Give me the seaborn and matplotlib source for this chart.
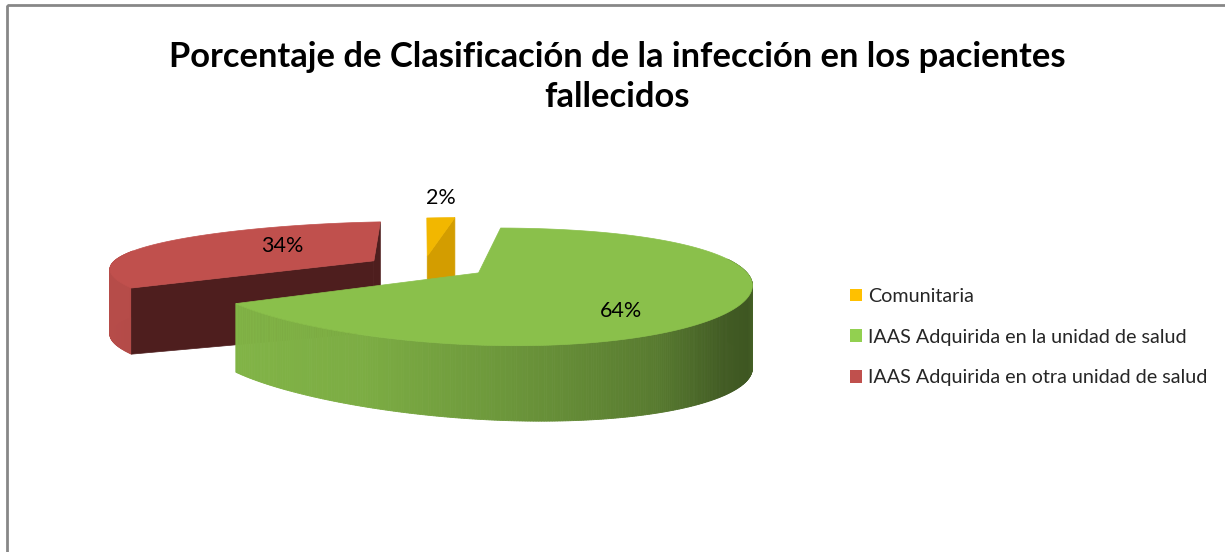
import numpy as np
import matplotlib
matplotlib.use("Agg")
import matplotlib.pyplot as plt
from matplotlib.patches import Polygon, Patch, Rectangle
from matplotlib.colors import to_rgb
import seaborn as sns

# data (legend order, slices go clockwise from 12 o'clock like Excel)
categories = ["Comunitaria",
              "IAAS Adquirida en la unidad de salud",
              "IAAS Adquirida en otra unidad de salud"]
values = [2, 64, 34]
title = "Porcentaje de Clasificación de la infección en los pacientes\nfallecidos"

sns.set_theme(style="white")
plt.rcParams["font.family"] = ["Lato", "DejaVu Sans"]

legend_colors = sns.color_palette(["#FFC000", "#92D050", "#C0504D"])
top_colors = ["#F2B700", "#8AC04B", "#C0504D"]
face_colors = ["#D39D00", "#4E7A2A", "#4E1E1E"]

# fake 3d pie, in pixels
W, H = 1225, 552
cx, cy = 424, 266
rx, ry = 264, 51
depth = 73
persp_y = 0.23    # back of the pie looks flatter
persp_xw = 0.15   # and a bit narrower
persp_x = 0.10    # right side a bit closer to the camera
explode = [0.20, 0.24, 0.22]
label_r = [1.7, 0.6, 0.42]
label_dx = [-8, -4, 0]
label_dy = [0, 17, -6]

# wall shading against cos(angle): left ... front ... right
shade_x = [-1.0, -0.4, 0.0, 0.55, 0.8, 0.93, 1.0]
shade_f = [0.95, 0.9, 0.8, 0.64, 0.48, 0.45, 0.55]

fig = plt.figure(figsize=(W / 100, H / 100), dpi=100)
ax = fig.add_axes([0, 0, 1, 1])
ax.set_xlim(0, W)
ax.set_ylim(H, 0)
ax.axis("off")

# chart area border (right and bottom edges fall outside the picture)
ax.add_patch(Rectangle((7, 5), W, H, fill=False, edgecolor="#878787", lw=2))


def proj(wx, wy, bottom=False):
    m = 1 - persp_x * wx
    x = cx + rx * wx / (1 + persp_xw * wy)
    y = cy - ry * wy / (1 + persp_y * wy) / m
    if bottom:
        y += depth / m
    return x, y


def shaded(color, f):
    return tuple(min(1, c * f) for c in to_rgb(color))


fracs = np.array(values) / sum(values)
starts = np.pi / 2 - 2 * np.pi * np.concatenate([[0], np.cumsum(fracs)[:-1]])
ends = starts - 2 * np.pi * fracs
mids = (starts + ends) / 2

order = np.argsort(-np.sin(mids))   # back slices first
for i in order:
    a0, a1 = starts[i], ends[i]
    ex, ey = explode[i] * np.cos(mids[i]), explode[i] * np.sin(mids[i])

    def rim(a, r=1.0, bottom=False):
        return proj(ex + r * np.cos(a), ey + r * np.sin(a), bottom)

    apex = proj(ex, ey)
    apex_b = proj(ex, ey, True)

    # outer wall (front half), thin strips to get the gradient
    ts = np.linspace(a0, a1, max(4, int(abs(a1 - a0) / np.radians(0.5))))
    for t1, t2 in zip(ts[:-1], ts[1:]):
        tm = (t1 + t2) / 2
        if np.sin(tm) > 0.25:
            continue
        col = shaded(top_colors[i], np.interp(np.cos(tm), shade_x, shade_f))
        poly = [rim(t1), rim(t2), rim(t2, bottom=True), rim(t1, bottom=True)]
        ax.add_patch(Polygon(poly, closed=True, fc=col, ec=col, lw=0.6))

    # cut faces turned to the viewer
    for a, normal in ((a0, a0 + np.pi / 2), (a1, a1 - np.pi / 2)):
        if np.sin(normal) < 0:
            poly = [apex, rim(a), rim(a, bottom=True), apex_b]
            ax.add_patch(Polygon(poly, closed=True, fc=face_colors[i],
                                 ec=face_colors[i], lw=0.5))

    # top
    poly = [apex] + [rim(t) for t in np.linspace(a0, a1, 200)]
    ax.add_patch(Polygon(poly, closed=True, fc=top_colors[i], ec=top_colors[i], lw=0.5))

    lx, ly = rim(mids[i], label_r[i])
    ax.text(lx + label_dx[i], ly + label_dy[i], f"{values[i]}%", ha="center",
            va="center", fontsize=15.5, color="black")

fig.text(0.504, 1 - 77 / H, title, ha="center", va="center", fontsize=24.8,
         fontweight="bold", linespacing=1.32, color="black")

handles = [Patch(facecolor=c, edgecolor="none") for c in legend_colors]
ax.legend(handles, categories, loc="center left", bbox_to_anchor=(850, 337),
          bbox_transform=ax.transData, frameon=False, fontsize=14.2,
          handlelength=0.62, handleheight=0.62, handletextpad=0.3,
          labelspacing=1.2, borderpad=0, borderaxespad=0)

fig.savefig("out.png", dpi=100)
